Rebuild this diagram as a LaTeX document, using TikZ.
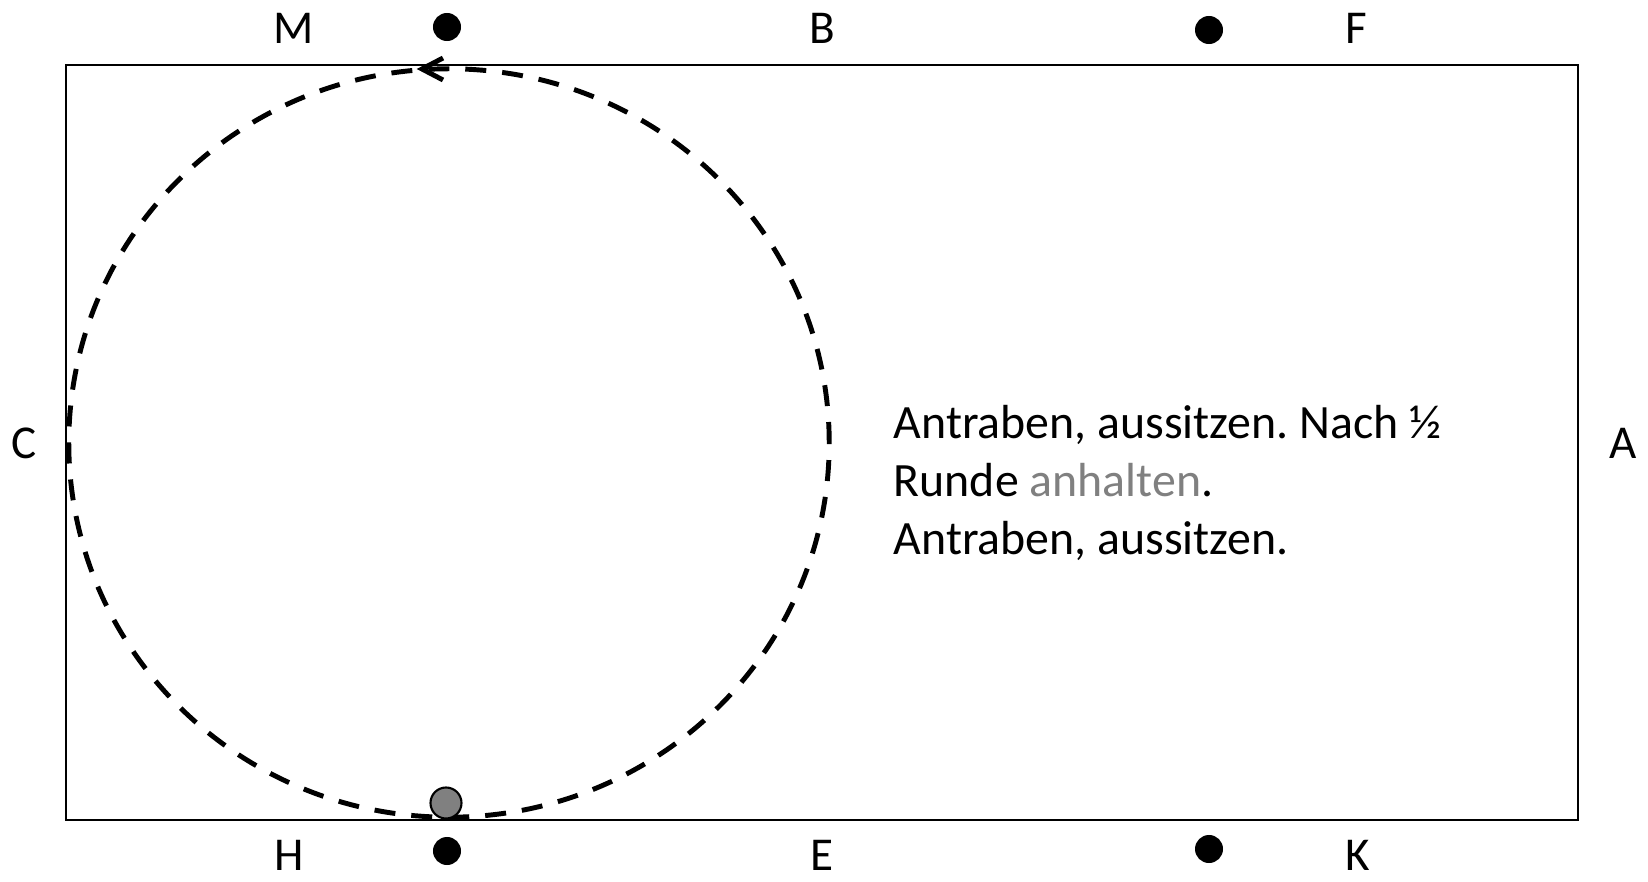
\documentclass[tikz,border=0pt]{standalone}
\usepackage{fontspec}
\setmainfont{Carlito}
\frenchspacing

\begin{document}
\begin{tikzpicture}[x=0.01cm,y=-0.01cm,
  lbl/.style={font=\fontsize{13.4pt}{16pt}\selectfont},
  dot/.style={circle,fill=black,inner sep=0pt,minimum size=0.28cm},
  rider/.style={circle,draw=black,fill=gray,line width=0.6pt,inner sep=0pt,minimum size=0.31cm}]
\useasboundingbox (0,0) rectangle (1648,882);
% arena
\draw[line width=0.6pt] (66,65) rectangle (1578,820);
% letters
\node[lbl] (M) at (294,28) {M};
\node[lbl] (B) at (822,28) {B};
\node[lbl] (F) at (1356,28) {F};
\node[lbl] (C) at (24,443) {C};
\node[lbl] (A) at (1623,443) {A};
\node[lbl] (H) at (289,855) {H};
\node[lbl] (E) at (822,855) {E};
\node[lbl] (K) at (1358,855) {K};
\node[dot] (mdot) at (447,27) {};
\node[dot] (fdot) at (1209,30) {};
\node[dot] (hdot) at (447,851) {};
\node[dot] (kdot) at (1209,849) {};
% volte
\draw[line width=1.4pt,dash pattern=on 0.21cm off 0.16cm]
  (449,443) ellipse [x radius=3.8cm,y radius=3.74cm];
\draw[line width=1.4pt] (443,58) -- (422,69) -- (443,80);
\node[rider] (rider) at (446,803) {};
% text
\node[anchor=west,align=left,inner sep=0pt,font=\fontsize{13.6pt}{16.4pt}\selectfont] (txt) at (893,483)
  {Antraben, aussitzen. Nach ½\\Runde \textcolor{gray}{anhalten}.\\Antraben, aussitzen.};
\end{tikzpicture}
\end{document}
